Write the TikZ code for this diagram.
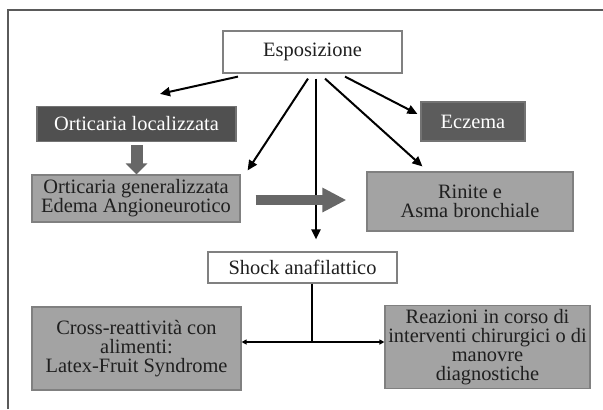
\documentclass[tikz,border=0pt]{standalone}
\usepackage{fontspec}
\setmainfont{Liberation Serif}
\usetikzlibrary{arrows.meta}

\definecolor{boxdark}{HTML}{505050}
\definecolor{boxdarklight}{HTML}{5C5C5C}
\definecolor{boxgrey}{HTML}{A3A3A3}
\definecolor{edgegrey}{HTML}{808080}
\definecolor{arrowgrey}{HTML}{676767}
\definecolor{framegrey}{HTML}{5A5A5A}

\begin{document}
\begin{tikzpicture}[x=0.5pt,y=-0.5pt,
    box/.style={rectangle, draw=edgegrey, line width=0.6pt, inner sep=0pt,
        align=center, font=\fontsize{10.2}{9.4}\selectfont, text=black!88},
    whitebox/.style={box, fill=white},
    darkfill/.style={box, fill=boxdark, draw=boxdark!80, text=white},
    greyfill/.style={box, fill=boxgrey, draw=edgegrey},
    link/.style={draw=black, line width=1pt, -{Triangle[length=5pt,width=4.5pt]}},
    smalllink/.style={draw=black, line width=0.9pt, -{Triangle[length=2.5pt,width=2.5pt]}},
    fatarrow/.style={draw=arrowgrey, line width=6pt, -{Triangle[length=5.5pt,width=10.5pt]}},
    widearrow/.style={draw=arrowgrey, line width=5pt, -{Triangle[length=12pt,width=11.5pt]}}
    ]
    \useasboundingbox (0,0) rectangle (603,409);

    % frame
    \draw[framegrey, line width=0.8pt] (8,409) -- (8,10) -- (603,10);

    \node[whitebox, minimum width=89.5pt, minimum height=21pt] (expo) at (312.5,52) {Esposizione};
    \node[darkfill, minimum width=99.5pt, minimum height=17.5pt] (orloc) at (136.5,124) {Orticaria localizzata};
    \node[darkfill, fill=boxdarklight, minimum width=52pt, minimum height=19.5pt] (eczema) at (473,121.5) {Eczema};
    \node[greyfill, minimum width=104pt, minimum height=23.5pt] (orgen) at (136,198.5) {Orticaria generalizzata\\Edema Angioneurotico};
    \node[greyfill, minimum width=103pt, minimum height=29.5pt] (rinite) at (470,201.5) {Rinite e\\Asma bronchiale};
    \node[whitebox, minimum width=94.5pt, minimum height=15.5pt] (shock) at (302.5,267.5) {Shock anafilattico};
    \node[greyfill, minimum width=104.5pt, minimum height=41.5pt] (cross) at (136.5,348.5) {Cross-reattività con\\alimenti:\\Latex-Fruit Syndrome};
    \node[greyfill, minimum width=102.5pt, minimum height=41.5pt] (reaz) at (487.5,347) {Reazioni in corso di\\interventi chirurgici o di\\manovre\\diagnostiche};

    % from Esposizione
    \draw[link] ([xshift=-37.25pt,yshift=-1.5pt]expo.south) -- ([xshift=11.75pt,yshift=6pt]orloc.north);
    \draw[link] ([xshift=-2.25pt,yshift=-2.5pt]expo.south) -- ([xshift=3.5pt,yshift=2pt]orgen.north east);
    \draw[link] ([xshift=1.75pt,yshift=-2.5pt]expo.south) -- ([xshift=6.75pt,yshift=6pt]shock.north);
    \draw[link] ([xshift=6.25pt,yshift=-2.5pt]expo.south) -- ([xshift=28pt,yshift=2.5pt]rinite.north west);
    \draw[link] ([xshift=16.25pt,yshift=-1.5pt]expo.south) -- ([xshift=-1.5pt,yshift=3.75pt]eczema.west);

    % grey block arrows
    \draw[fatarrow, shorten <=1.5pt] (orloc.south) -- (orloc.south |- orgen.north);
    \draw[widearrow, shorten <=7.5pt, shorten >=10pt] ([yshift=-0.75pt]orgen.east) -- ([yshift=-0.75pt]orgen.east -| rinite.west);

    % Shock anafilattico branches
    \coordinate (stem) at ([xshift=4.75pt]shock.south);
    \coordinate (split) at (312,342);
    \draw[black, line width=1pt] (stem) -- (split);
    \draw[smalllink] (split) -- (split -| cross.east);
    \draw[smalllink] (split) -- (split -| reaz.west);
\end{tikzpicture}
\end{document}
